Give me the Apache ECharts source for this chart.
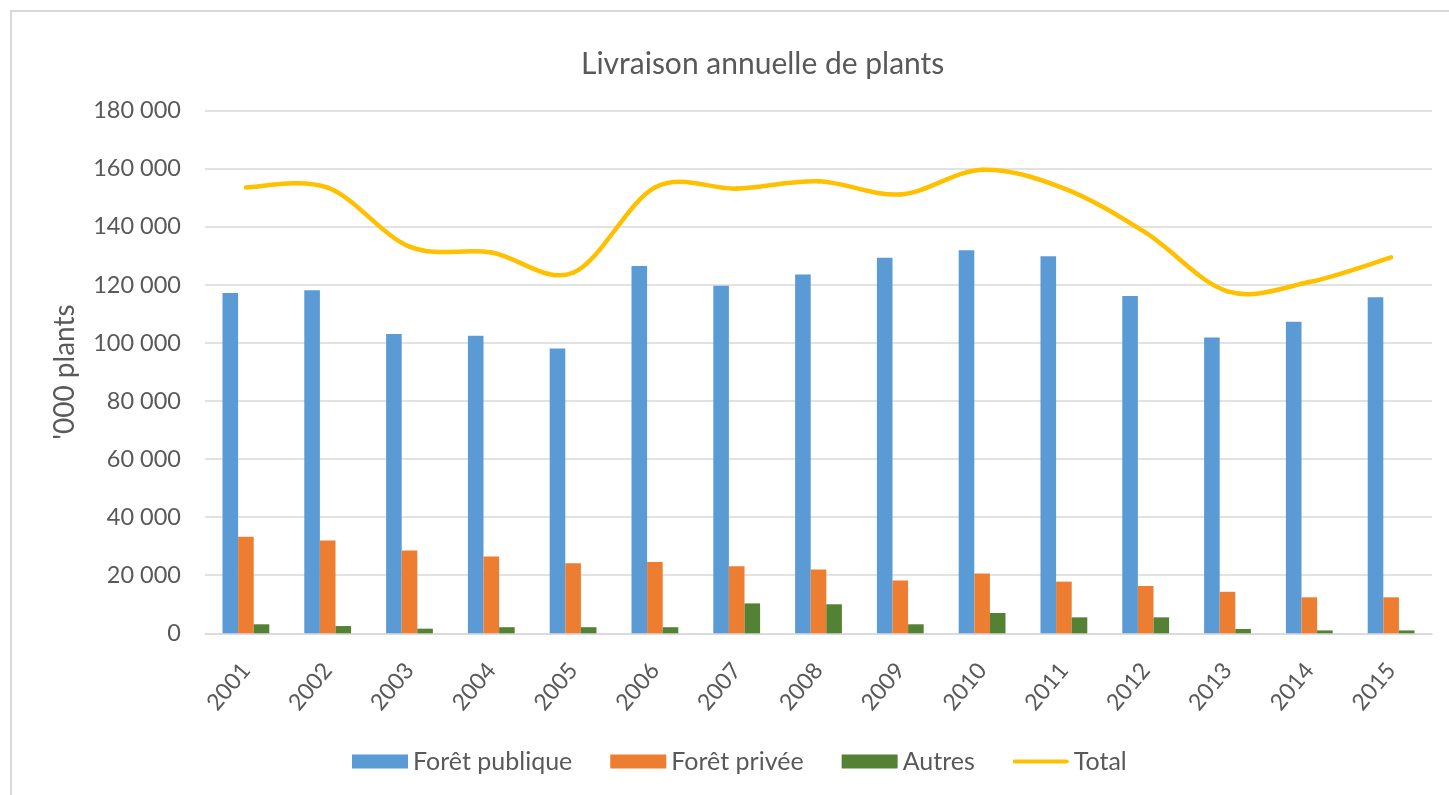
<!DOCTYPE html>
<html>
<head>
<meta charset="utf-8">
<title>Livraison annuelle de plants</title>
<script src="https://cdn.jsdelivr.net/npm/echarts@6/dist/echarts.min.js"></script>
<style>
  html, body { margin: 0; padding: 0; background: #fff; }
  #chart { width: 1449px; height: 795px; }
</style>
</head>
<body>
<div id="chart"></div>
<script>
const years = ["2001", "2002", "2003", "2004", "2005", "2006", "2007", "2008", "2009", "2010", "2011", "2012", "2013", "2014", "2015"];
const foretPublique = [117200, 118200, 103100, 102500, 98100, 126500, 119700, 123600, 129400, 132000, 129900, 116200, 101900, 107300, 115800];
const foretPrivee = [33300, 32000, 28500, 26500, 24100, 24600, 23100, 22000, 18200, 20600, 17800, 16300, 14300, 12400, 12400];
const autres = [3100, 2500, 1600, 2100, 2100, 2100, 10300, 10000, 3100, 7000, 5500, 5500, 1500, 1000, 1000];
const total = [153600, 153500, 133200, 131200, 124200, 153600, 153200, 155700, 151200, 159700, 153300, 138000, 117800, 121000, 129500];

const font = "Lato, 'Open Sans', sans-serif";
const grey = "#595959";
const yellow = "#ffc000";

function spaced(v) {
  return String(v).replace(/\B(?=(\d{3})+(?!\d))/g, " ");
}

// Excel-style smoothed line: each segment is a Bezier with Catmull-Rom control points
function renderTotalSegment(params, api) {
  const i = params.dataIndex;
  const n = total.length;
  if (i >= n - 1) return null;
  const p = (k) => {
    const j = Math.max(0, Math.min(n - 1, k));
    return api.coord([j, total[j]]);
  };
  const p0 = p(i - 1), p1 = p(i), p2 = p(i + 1), p3 = p(i + 2);
  return {
    type: "bezierCurve",
    shape: {
      x1: p1[0], y1: p1[1],
      x2: p2[0], y2: p2[1],
      cpx1: p1[0] + (p2[0] - p0[0]) / 6,
      cpy1: p1[1] + (p2[1] - p0[1]) / 6,
      cpx2: p2[0] - (p3[0] - p1[0]) / 6,
      cpy2: p2[1] - (p3[1] - p1[1]) / 6
    },
    style: { fill: null, stroke: yellow, lineWidth: 4.5, lineCap: "round" }
  };
}

const chart = echarts.init(document.getElementById("chart"), null, { renderer: "canvas" });
chart.setOption({
  backgroundColor: "#fff",
  animation: false,
  textStyle: { fontFamily: font },
  graphic: [
    {
      type: "rect",
      shape: { x: 11, y: 11, width: 1460, height: 800 },
      style: { fill: "none", stroke: "#d9d9d9", lineWidth: 2 },
      silent: true
    }
  ],
  title: {
    text: "Livraison annuelle de plants",
    left: 576,
    top: 44,
    textStyle: { fontFamily: font, fontSize: 30, fontWeight: "normal", color: grey }
  },
  legend: {
    left: 347,
    top: 744,
    itemWidth: 56,
    itemHeight: 14,
    itemGap: 38,
    textStyle: { fontFamily: font, fontSize: 25, color: grey },
    data: [
      { name: "Forêt publique", icon: "rect" },
      { name: "Forêt privée", icon: "rect" },
      { name: "Autres", icon: "rect" },
      { name: "Total", icon: "path://M0,0 M56,14 M2,5 L54,5 Q56,5 56,7 Q56,9 54,9 L2,9 Q0,9 0,7 Q0,5 2,5 Z", symbolKeepAspect: false }
    ]
  },
  grid: { left: 205, right: 17, top: 110.8, bottom: 161.7, containLabel: false },
  xAxis: {
    type: "category",
    data: years,
    axisLine: { show: true, lineStyle: { color: "#d9d9d9", width: 1.5 } },
    axisTick: { show: false },
    axisLabel: { rotate: 50, color: grey, fontSize: 23, fontFamily: font, margin: 33 }
  },
  yAxis: {
    type: "value",
    min: 0,
    max: 180000,
    interval: 20000,
    name: "'000 plants",
    nameLocation: "middle",
    nameGap: 126,
    nameTextStyle: { color: grey, fontSize: 28, fontFamily: font },
    axisLine: { show: false },
    axisTick: { show: false },
    axisLabel: { color: grey, fontSize: 23.5, fontFamily: font, margin: 24, formatter: spaced },
    splitLine: { lineStyle: { color: "#d9d9d9", width: 1.5 } }
  },
  series: [
    {
      name: "Forêt publique",
      type: "bar",
      data: foretPublique,
      barWidth: 15.6,
      barGap: "0%",
      itemStyle: { color: "#5b9bd5" }
    },
    {
      name: "Forêt privée",
      type: "bar",
      data: foretPrivee,
      barWidth: 15.6,
      barGap: "0%",
      itemStyle: { color: "#ed7d31" }
    },
    {
      name: "Autres",
      type: "bar",
      data: autres,
      barWidth: 15.6,
      barGap: "0%",
      itemStyle: { color: "#548235" }
    },
    {
      name: "Total",
      type: "custom",
      data: total.map((v, i) => [i, v]),
      encode: { x: 0, y: 1 },
      renderItem: renderTotalSegment,
      itemStyle: { color: yellow },
      z: 5
    }
  ]
});
</script>
</body>
</html>
